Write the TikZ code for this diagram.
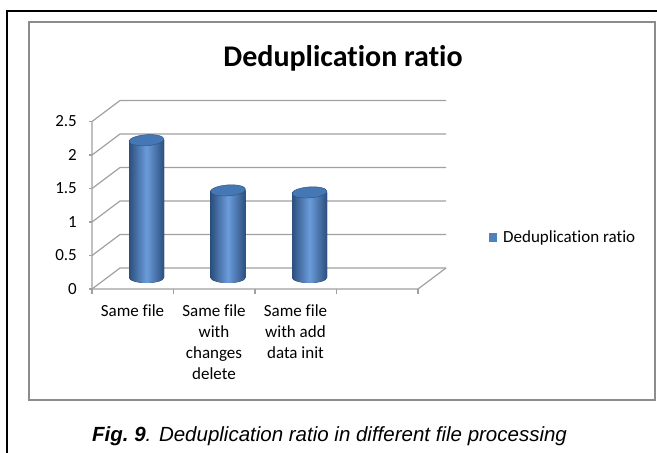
\documentclass[tikz,border=0pt]{standalone}
\usepackage{fontspec}
\setmainfont{Carlito}[Ligatures = NoCommon]
\newfontfamily\capfont{Liberation Sans}

\definecolor{gridgray}{HTML}{A0A0A0}
\definecolor{boxgray}{HTML}{8C8C8C}
\definecolor{bardark}{HTML}{2B4F7E}
\definecolor{barlight}{HTML}{6B9CDB}
\definecolor{bartop}{HTML}{4677B5}
\definecolor{legblue}{HTML}{4F81BD}

\begin{document}
\begin{tikzpicture}[x = 1pt, y = -1pt, % pixel like coordinates
                gridline/.style = {draw = gridgray, line width = 1.2pt},
                ylab/.style = {anchor = east, inner sep = 0pt,
                    font = \fontsize{17}{20}\selectfont},
                xlab/.style = {anchor = north, inner sep = 0pt, align = center,
                    font = \fontsize{17}{21.3}\selectfont}
            ]
            \useasboundingbox (0,0) rectangle (657,453);

            % frames
            \draw[line width = 2pt] (7,453) -- (7,11) -- (657,11);
            \draw[boxgray, line width = 1.2pt] (29,22) rectangle (655,400);

            \node[anchor = base, inner sep = 0pt,
                font = \fontsize{30}{36}\selectfont\bfseries] (title) at (343,66)
            {Deduplication ratio};

            % walls and axis
            \foreach \v in {0,0.5,1,1.5,2,2.5} {
                \draw[gridline] (92,{289-67*\v}) -- (120,{268-67*\v})
                    -- (446,{268-67*\v});
                \draw[gridline] (89,{289-67*\v}) -- (92,{289-67*\v});
                \node[ylab] at (77,{289-67*\v}) {\v};
            }
            \draw[gridline] (92,121.5) -- (92,289) -- (418,289) -- (446,268);
            \foreach \x in {92,173.5,255,336.5,418}
                \draw[gridline] (\x,289) -- (\x,294);

            % cylinders
            \foreach \bx/\bt in {146.5/140.2, 228/190.4, 309.5/192.4} {
                \fill[left color = bardark, right color = bardark,
                    middle color = barlight]
                    ({\bx-17.5},\bt) -- ({\bx-17.5},277.5)
                    arc[start angle = 180, end angle = 360,
                        x radius = 17.5pt, y radius = 5.5pt]
                    -- ({\bx+17.5},\bt) -- cycle;
                \fill[bartop, draw = bardark, thin,
                    rotate around = {4:(\bx,\bt)}]
                    (\bx,\bt) ellipse[x radius = 17.5pt, y radius = 5.5pt];
            }

            % legend
            \fill[legblue] (489,233) rectangle (497,242);
            \node[anchor = base west, inner sep = 0pt,
                font = \fontsize{17}{20}\selectfont] (legend) at (503,242)
            {Deduplication ratio};

            % categories
            \node[xlab] (cat1) at (132.5,304) {Same file};
            \node[xlab] (cat2) at (214,304) {Same file\\with\\changes\\delete};
            \node[xlab] (cat3) at (295.5,304) {Same file\\with add\\data init};

            \node[anchor = base west, inner sep = 0pt,
                font = \capfont\fontsize{20.5}{24}\selectfont\itshape] (caption)
            at (92,441) {{\bfseries Fig.~9}. Deduplication ratio in different file
                processing};
        \end{tikzpicture}
\end{document}
